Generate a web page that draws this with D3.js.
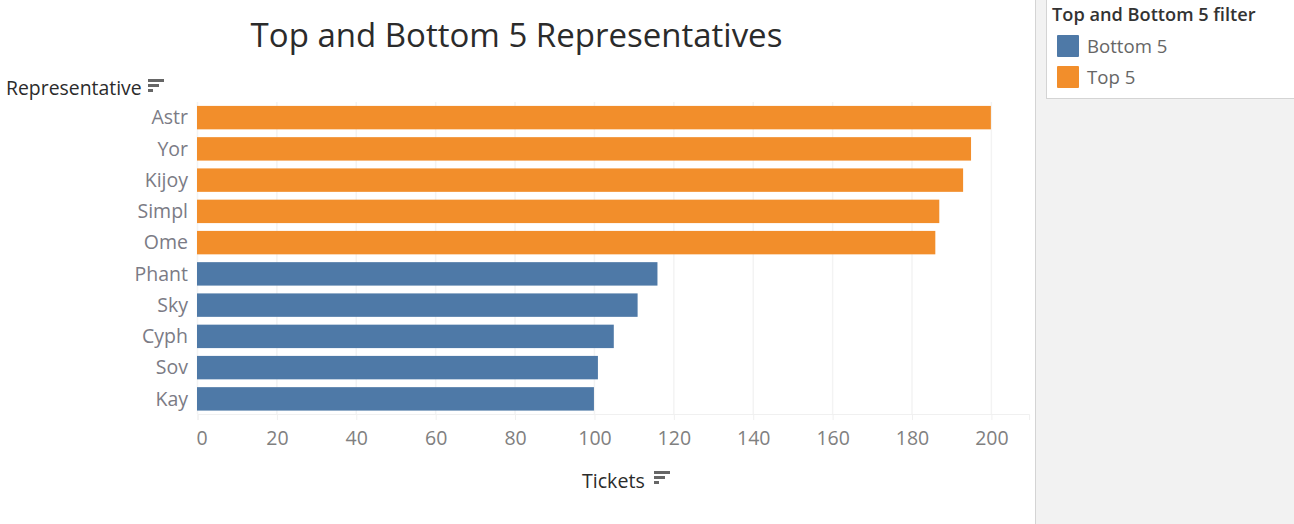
<!DOCTYPE html>
<html>
<head>
<meta charset="utf-8">
<script src="https://cdn.jsdelivr.net/npm/d3@7"></script>
<style>
  html, body { margin: 0; padding: 0; background: #fff; overflow: hidden; }
  text { font-family: "Open Sans", sans-serif; }
</style>
</head>
<body>
<div id="chart_area"></div>
<script>
// Chart values
var representatives = ["Astr", "Yor", "Kijoy", "Simpl", "Ome", "Phant", "Sky", "Cyph", "Sov", "Kay"];
var tickets = [200, 195, 193, 187, 186, 116, 111, 105, 101, 100];
var groups = ["Top 5", "Top 5", "Top 5", "Top 5", "Top 5", "Bottom 5", "Bottom 5", "Bottom 5", "Bottom 5", "Bottom 5"];
var legend_labels = ["Bottom 5", "Top 5"];
var x_ticks = [0, 20, 40, 60, 80, 100, 120, 140, 160, 180, 200];

var frame_width = 1294;
var frame_height = 524;
var margin = {top: 102, left: 197, right: 265, bottom: 110};

var frame = d3.select("#chart_area").append("svg")
    .attr("width", frame_width)
    .attr("height", frame_height)
    .style("display", "block");

// Right hand panel with legend box
frame.append("rect").attr("x", 1035.5).attr("y", -1).attr("width", 260).attr("height", 530)
    .attr("fill", "#f2f2f2").attr("stroke", "#d4d4d4");
frame.append("rect").attr("x", 1046.5).attr("y", -1).attr("width", 250).attr("height", 99.5)
    .attr("fill", "#fff").attr("stroke", "#d4d4d4");

var canvas = frame.append("g")
    .attr("transform", "translate(" + margin.left + "," + margin.top + ")");
var canvas_height = frame_height - margin.top - margin.bottom;

// Scales
var xScale = d3.scaleLinear().domain([0, 209.5]).range([0, 831.6]);
var yScale = d3.scaleBand().domain(representatives).range([0, 312.5]).paddingInner(0.25).paddingOuter(0.125);
var colorScale = d3.scaleOrdinal().domain(legend_labels).range(["#4e79a7", "#f28e2b"]);

// Gridlines
canvas.append("g").selectAll("line")
    .data(x_ticks)
    .enter().append("line")
    .attr("x1", function(d) { return xScale(d) + 0.5; })
    .attr("x2", function(d) { return xScale(d) + 0.5; })
    .attr("y1", 0).attr("y2", canvas_height)
    .attr("stroke", "#f3f3f3").attr("stroke-width", 1.5);

// Axis line and ticks
var xAxis = d3.axisBottom(xScale).tickValues(x_ticks).tickSize(6).tickPadding(11);
var x_g = canvas.append("g")
    .attr("transform", "translate(0.5," + canvas_height + ")")
    .call(xAxis);
x_g.select(".domain").attr("stroke", "#f0f0f0");
x_g.selectAll(".tick line").attr("stroke", "#f0f0f0");
x_g.selectAll(".tick text")
    .attr("fill", "#808080")
    .style("font-family", '"Open Sans", sans-serif')
    .style("font-size", "19.5px")
    .attr("dx", function(d) { return d === 0 ? 4 : 0; });

var yAxis = d3.axisLeft(yScale).tickSize(0).tickPadding(9);
var y_g = canvas.append("g").call(yAxis);
y_g.select(".domain").remove();
y_g.selectAll(".tick text")
    .attr("fill", "#7b7b85")
    .attr("dy", "0.34em")
    .style("font-family", '"Open Sans", sans-serif')
    .style("font-size", "19.5px");

// Bars
canvas.append("g").selectAll("rect")
    .data(representatives)
    .enter().append("rect")
    .attr("x", 0)
    .attr("y", function(d) { return yScale(d); })
    .attr("width", function(d, i) { return xScale(tickets[i]); })
    .attr("height", yScale.bandwidth())
    .attr("fill", function(d, i) { return colorScale(groups[i]); });

// Sort icon next to field labels
function sort_icon(x, y) {
  var icon = frame.append("g").attr("transform", "translate(" + x + "," + y + ")").attr("fill", "#666");
  icon.append("rect").attr("width", 16).attr("height", 3);
  icon.append("rect").attr("y", 5).attr("width", 11).attr("height", 3);
  icon.append("rect").attr("y", 10).attr("width", 5).attr("height", 3);
}

// Titles
frame.append("text").attr("x", 516.5).attr("y", 47)
    .attr("text-anchor", "middle").attr("fill", "#2b2b2b")
    .style("font-size", "33px").text("Top and Bottom 5 Representatives");
frame.append("text").attr("x", 6).attr("y", 95)
    .attr("fill", "#2b2b2b").style("font-size", "19.4px").text("Representative");
sort_icon(148, 79);
frame.append("text").attr("x", 582).attr("y", 488)
    .attr("fill", "#2b2b2b").style("font-size", "19.6px").text("Tickets");
sort_icon(654, 471);

// Legend
frame.append("text").attr("x", 1052).attr("y", 21)
    .attr("fill", "#333").style("font-size", "18.2px").style("font-weight", 600).text("Top and Bottom 5 filter");
var legend = frame.append("g").selectAll("g")
    .data(legend_labels)
    .enter().append("g")
    .attr("transform", function(d, i) { return "translate(1057," + (35 + i * 31) + ")"; });
legend.append("rect").attr("width", 22).attr("height", 22).attr("rx", 1)
    .attr("fill", function(d) { return colorScale(d); });
legend.append("text").attr("x", 30).attr("y", 18)
    .attr("fill", "#666").style("font-size", "18.6px")
    .text(function(d) { return d; });
</script>
</body>
</html>
